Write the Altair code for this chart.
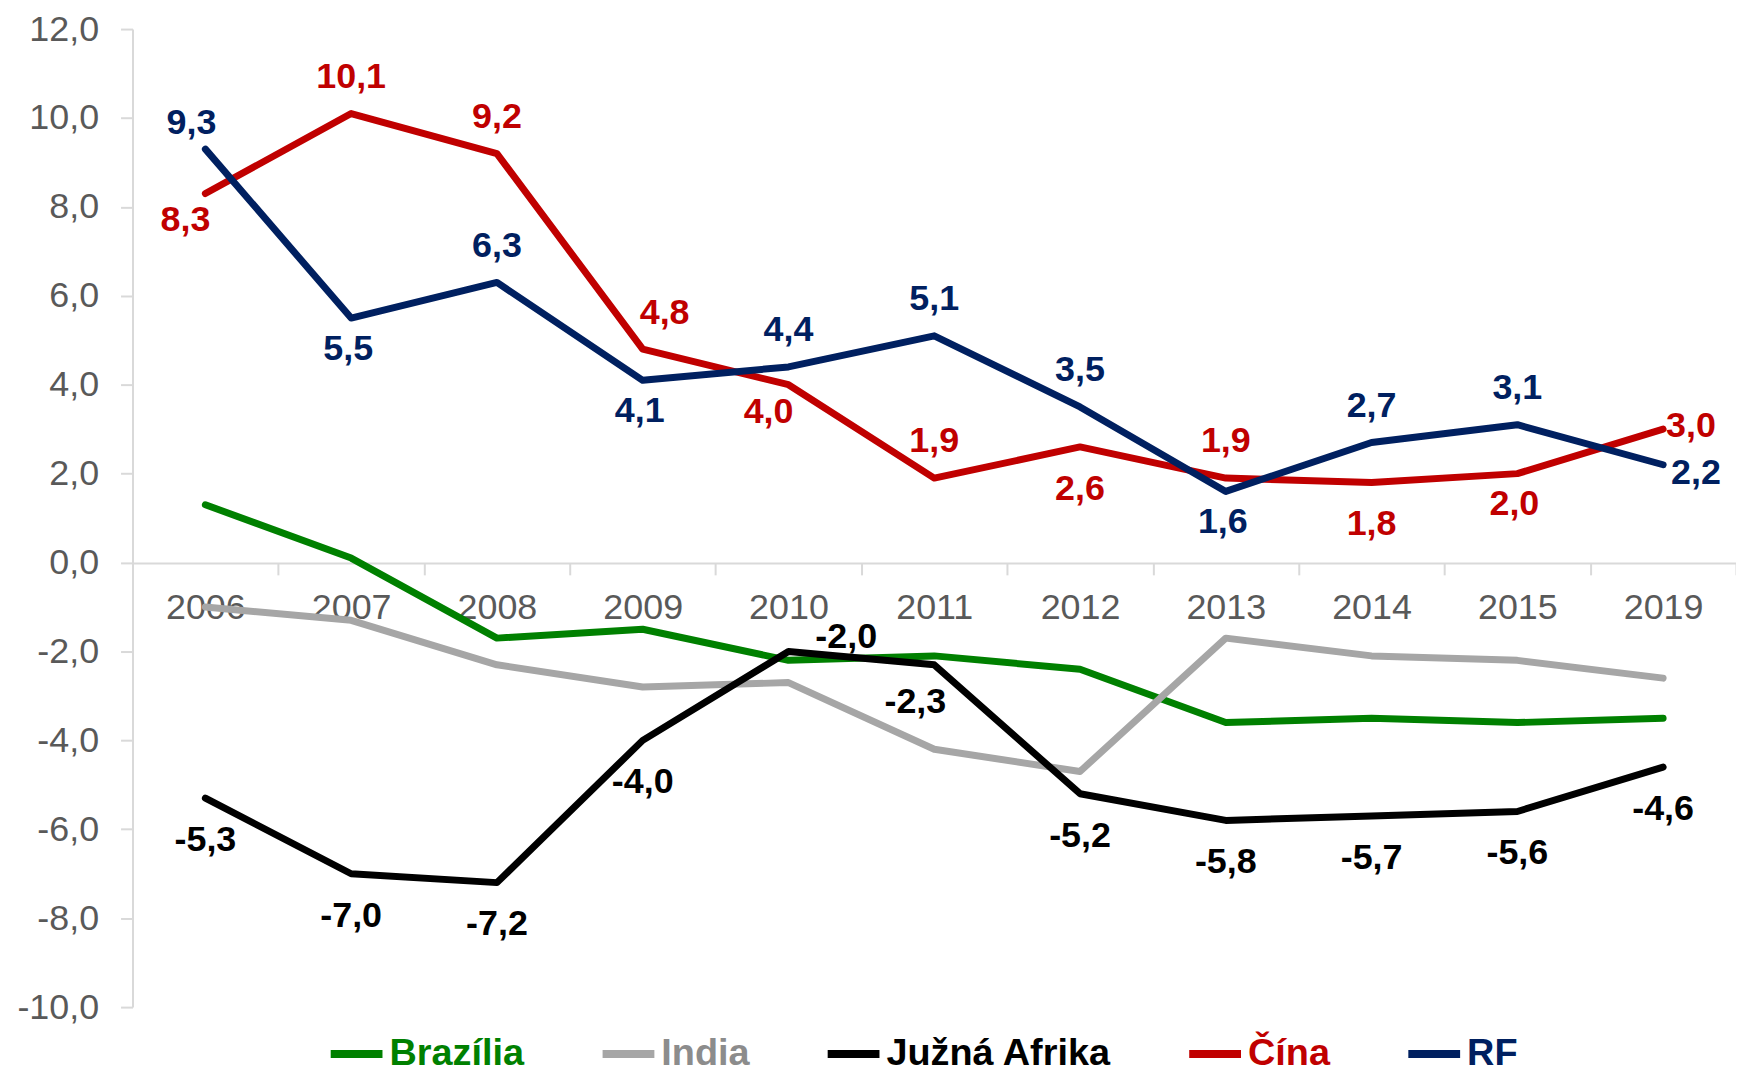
import altair as alt
import pandas as pd

years = ["2006", "2007", "2008", "2009", "2010", "2011", "2012", "2013", "2014", "2015", "2019"]
series_names = ["Brazília", "India", "Južná Afrika", "Čína", "RF"]
brazilia = [1.3, 0.1, -1.7, -1.5, -2.2, -2.1, -2.4, -3.6, -3.5, -3.6, -3.5]
india = [-1.0, -1.3, -2.3, -2.8, -2.7, -4.2, -4.7, -1.7, -2.1, -2.2, -2.6]
juzna_afrika = [-5.3, -7.0, -7.2, -4.0, -2.0, -2.3, -5.2, -5.8, -5.7, -5.6, -4.6]
cina = [8.3, 10.1, 9.2, 4.8, 4.0, 1.9, 2.6, 1.9, 1.8, 2.0, 3.0]
rf = [9.3, 5.5, 6.3, 4.1, 4.4, 5.1, 3.5, 1.6, 2.7, 3.1, 2.2]
line_colors = ["#008000", "#a6a6a6", "#000000", "#c00000", "#002060"]
y_ticks = [-10, -8, -6, -4, -2, 0, 2, 4, 6, 8, 10, 12]

# where each data label sits relative to its point
cina_pos = ["lower_left", "above", "above", "upper_right", "lower_left", "above",
            "below", "above", "below", "below_near", "right"]
rf_pos = ["upper_left", "below_near", "above", "below_near", "above", "above",
          "above", "below_near", "above", "above", "right_low"]
juzna_pos = ["below", "below", "below", "below", "right_up", "below_left",
             "below", "below", "below", "below", "below"]

offsets = {
    "above": (0, -37),
    "below": (0, 42),
    "below_near": (-3, 31),
    "upper_left": (-14, -26),
    "lower_left": (-20, 27),
    "below_left": (-19, 37),
    "upper_right": (22, -36),
    "right": (28, -3),
    "right_low": (33, 8),
    "right_up": (58, -14),
}

series_values = [brazilia, india, juzna_afrika, cina, rf]
rows = []
for name, vals in zip(series_names, series_values):
    for y, v in zip(years, vals):
        rows.append({"series": name, "year": y, "value": v})
df = pd.DataFrame(rows)

lab_rows = []
for name, vals, pos in [("Južná Afrika", juzna_afrika, juzna_pos), ("Čína", cina, cina_pos), ("RF", rf, rf_pos)]:
    for y, v, p in zip(years, vals, pos):
        lab_rows.append({"series": name, "year": y, "value": v, "pos": p})
lab_df = pd.DataFrame(lab_rows)

FONT = "Liberation Sans"
fmt = "replace(replace(format(datum.value, '.1f'), '.', ','), '\u2212', '-')"

W, H = 1610, 982
y_min, y_max = -10, 12
zero_from_bottom = H * (0 - y_min) / (y_max - y_min)

x_enc = alt.X(
    "year:N", sort=years,
    scale=alt.Scale(type="band", paddingInner=0, paddingOuter=0),
    axis=alt.Axis(
        title=None, orient="bottom", offset=-round(zero_from_bottom), tickBand="extent",
        domainColor="#d9d9d9", domainWidth=2, tickColor="#d9d9d9", tickWidth=2, tickSize=12,
        labelFont=FONT, labelFontSize=36, labelColor="#595959", labelPadding=16,
        labelAngle=0, grid=False, labelOverlap=False,
    ),
)
y_enc = alt.Y(
    "value:Q",
    scale=alt.Scale(domain=[y_min, y_max], nice=False, zero=False),
    axis=alt.Axis(
        title=None, values=y_ticks, labelExpr=fmt, grid=False,
        domainColor="#d9d9d9", domainWidth=2, tickColor="#d9d9d9", tickWidth=2, tickSize=12,
        labelFont=FONT, labelFontSize=36, labelColor="#595959", labelPadding=22,
    ),
)
color_scale = alt.Scale(domain=series_names, range=line_colors)

legend_color = ("datum.value == 'Brazília' ? '#008000' : datum.value == 'India' ? '#8c8c8c' : "
                "datum.value == 'Čína' ? '#c00000' : datum.value == 'RF' ? '#002060' : '#000000'")
EN, EM = "\u2002", "\u2003"
legend_label = (f"datum.value == 'Južná Afrika' ? datum.value + '{EN}' : "
                f"datum.value == 'Čína' ? datum.value + '{EM}' : datum.value")

lines = alt.Chart(df).mark_line(strokeWidth=7, strokeCap="round", strokeJoin="round").encode(
    x=x_enc, y=y_enc,
    color=alt.Color(
        "series:N", scale=color_scale, sort=series_names,
        legend=alt.Legend(
            title=None, orient="none", legendX=195, legendY=999, direction="horizontal",
            symbolType="stroke", symbolStrokeWidth=8, symbolSize=2704,
            labelFont=FONT, labelFontSize=38, labelFontWeight="bold", labelExpr=legend_label,
            labelColor={"expr": legend_color}, labelOffset=3, columnPadding=62, labelLimit=500,
        ),
    ),
)

layers = [lines]
for pos, (dx, dy) in offsets.items():
    layers.append(
        alt.Chart(lab_df)
        .transform_filter(alt.datum.pos == pos)
        .transform_calculate(txt=fmt)
        .mark_text(dx=dx, dy=dy, font=FONT, fontSize=36, fontWeight="bold",
                   align="center", baseline="middle")
        .encode(x=x_enc, y=y_enc, text="txt:N",
                color=alt.Color("series:N", scale=color_scale, legend=None))
    )

chart = (
    alt.layer(*layers)
    .properties(
        width=W, height=H,
        autosize=alt.AutoSizeParams(type="none"),
        padding={"left": 125, "top": 19, "right": 0, "bottom": 63},
    )
    .configure_view(stroke=None)
)

chart.save("out.html", embed_options={"renderer": "svg", "actions": False})
